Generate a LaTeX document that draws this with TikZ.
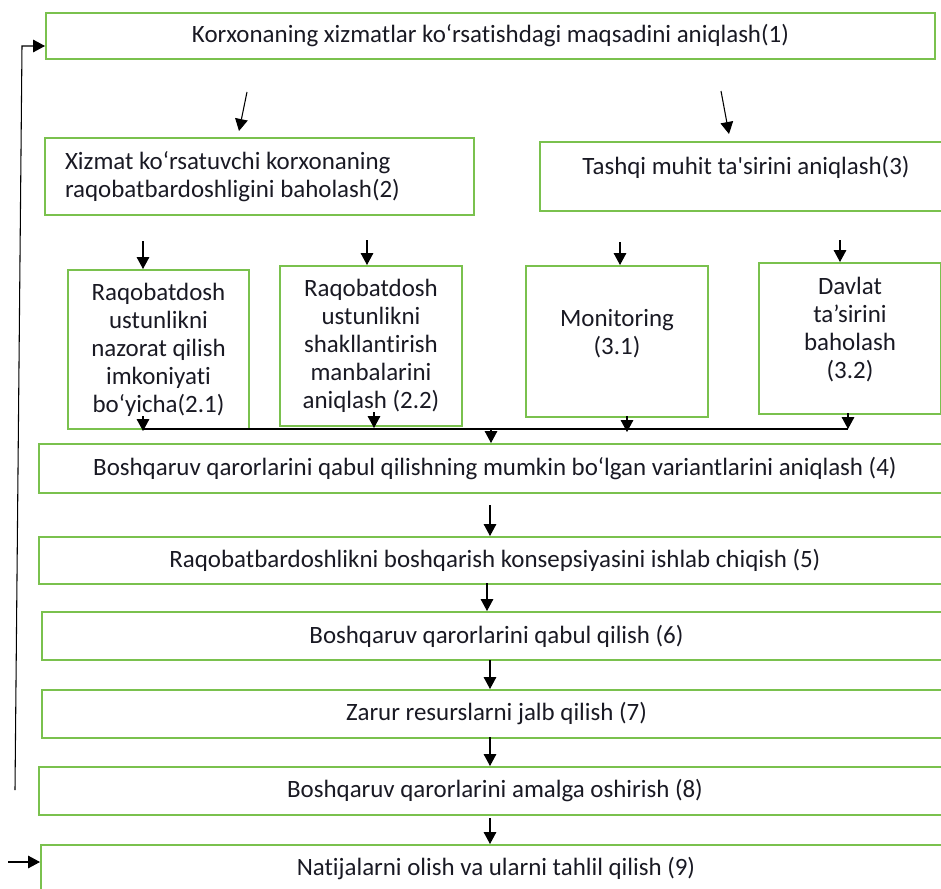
\documentclass[tikz,border=0pt]{standalone}
\usepackage{fontspec}
\setmainfont{Carlito}[Ligatures={NoCommon}]
\usetikzlibrary{arrows.meta,calc}
\definecolor{boxgreen}{RGB}{122,193,78}
\definecolor{txt}{RGB}{25,25,35}
\newcommand{\stk}[1]{\begin{tabular}{@{}c@{}}#1\end{tabular}}
\begin{document}
\begin{tikzpicture}[x=0.75pt,y=-0.75pt,
  box/.style={draw=boxgreen, line width=1.5pt, inner sep=0pt, anchor=north west,
    font=\fontsize{18.7}{21}\selectfont, text=txt, align=center},
  arr/.style={-{Triangle[width=9.5pt,length=9pt]}, line width=0.8pt, draw=black},
  ln/.style={line width=0.8pt, draw=black}]
\useasboundingbox (0,0) rectangle (941,888);
\clip (0,0) rectangle (941,888);
% boxes
\node[box, minimum width=666.75pt, minimum height=34.5pt] (n1) at (45,12)
  {Korxonaning xizmatlar ko‘rsatishdagi maqsadini aniqlash(1)};
\node[box, minimum width=321.75pt, minimum height=57.75pt, text width=291.75pt,
  inner xsep=15pt, align=flush left] (n2) at (44,137)
  {Xizmat ko‘rsatuvchi korxonaning\\raqobatbardoshligini baholash(2)};
\node[box, minimum width=309pt, minimum height=51.75pt] (n3) at (539,141)
  {\stk{Tashqi muhit ta\textquotesingle sirini aniqlash(3)\\[12pt]}};
\node[box, minimum width=135.75pt, minimum height=119.25pt] (n21) at (67,269)
  {Raqobatdosh\\ustunlikni\\nazorat qilish\\imkoniyati\\bo‘yicha(2.1)};
\node[box, minimum width=136.5pt, minimum height=120pt] (n22) at (279,265)
  {Raqobatdosh\\ustunlikni\\shakllantirish\\manbalarini\\aniqlash (2.2)};
\node[box, minimum width=136.5pt, minimum height=113.25pt] (n31) at (525,265)
  {\stk{Monitoring\\(3.1)\\[10pt]}};
\node[box, minimum width=136.5pt, minimum height=113.25pt] (n32) at (758,262)
  {\stk{Davlat\\ta’sirini\\baholash\\(3.2)\\[11pt]}};
\node[box, minimum width=684pt, minimum height=36.75pt] (n4) at (38,443)
  {Boshqaruv qarorlarini qabul qilishning mumkin bo‘lgan variantlarini aniqlash (4)};
\node[box, minimum width=684pt, minimum height=35.25pt] (n5) at (38,536)
  {Raqobatbardoshlikni boshqarish konsepsiyasini ishlab chiqish (5)};
\node[box, minimum width=681.75pt, minimum height=36pt] (n6) at (41,611)
  {Boshqaruv qarorlarini qabul qilish (6)};
\node[box, minimum width=681.75pt, minimum height=36pt] (n7) at (41,689)
  {Zarur resurslarni jalb qilish (7)};
\node[box, minimum width=684pt, minimum height=36pt] (n8) at (38,766)
  {Boshqaruv qarorlarini amalga oshirish (8)};
\node[box, minimum width=682.5pt, minimum height=36pt] (n9) at (40,844)
  {Natijalarni olish va ularni tahlil qilish (9)};
% arrows from box 1
\coordinate (s12) at (247,92);
\coordinate (e12) at (239,131);
\coordinate (s13) at (721,91);
\coordinate (e13) at (729,134);
\draw[arr] (s12) -- (e12);
\draw[arr] (s13) -- (e13);
% arrows into second row
\coordinate (t21) at (143,241);
\coordinate (t22) at (367,240);
\coordinate (t31) at (620,242);
\coordinate (t32) at (840,240);
\draw[arr] (t21) -- (t21 |- n21.north);
\draw[arr] (t22) -- (t22 |- n22.north);
\draw[arr] (t31) -- (t31 |- n31.north);
\draw[arr] (t32) -- (t32 |- n32.north);
% bus
\coordinate (busL) at (143,429);
\coordinate (busR) at (848,429);
\coordinate (busM) at (491,429);
\draw[ln] (busL) -- (busR);
\coordinate (b21) at (143,416);
\coordinate (b22) at (374,412);
\coordinate (b31) at (627,416);
\coordinate (b32) at (848,413);
\draw[arr] (b21) -- (143,431);
\draw[arr] (b22) -- (374,428);
\draw[arr] (b31) -- (627,432);
\draw[arr] (b32) -- (848,429);
\draw[arr] (busM) -- (busM |- n4.north);
% vertical chain
\coordinate (c45) at (490,505);
\coordinate (c56) at (487,583);
\coordinate (c67) at (490,660);
\coordinate (c78) at (490,737);
\coordinate (c89) at (490,818);
\draw[arr] (c45) -- (c45 |- n5.north);
\draw[arr] (c56) -- (c56 |- n6.north);
\draw[arr] (c67) -- (c67 |- n7.north);
\draw[arr] (c78) -- (c78 |- n8.north);
\draw[arr] (c89) -- (c89 |- n9.north);
% feedback loop
\coordinate (fb0) at (15,790);
\coordinate (fb1) at (22,46);
\draw[arr] (fb0) -- (fb1) -- (fb1 -| n1.west);
% input into box 9
\coordinate (in9) at (8,862);
\draw[arr] (in9) -- (in9 -| n9.west);
\end{tikzpicture}
\end{document}
